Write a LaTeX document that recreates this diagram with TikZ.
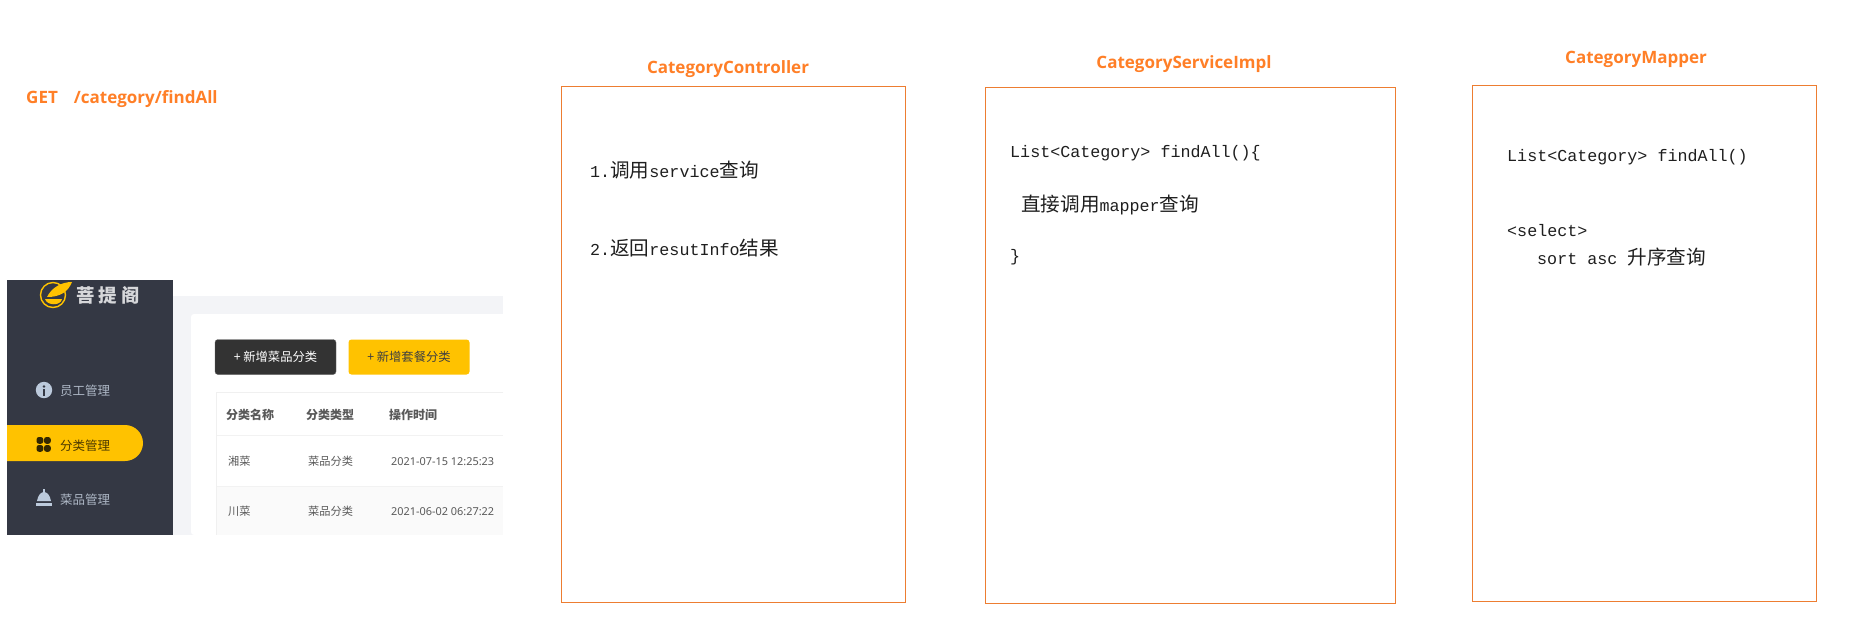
\documentclass[tikz,border=0pt]{standalone}
\usepackage{fontspec}
\setmainfont{Liberation Mono}
\newfontfamily\cjk{Noto Sans CJK SC}
\newfontfamily\ttl{Noto Sans}
\newfontfamily\ttb{Open Sans}
\definecolor{ttlc}{HTML}{FF7F27}
\definecolor{boxc}{HTML}{ED7D31}
\definecolor{side}{HTML}{343844}
\definecolor{yel}{HTML}{FFC200}
\definecolor{pagebg}{HTML}{F3F4F7}
\definecolor{icon}{HTML}{BCCADC}
\definecolor{menutx}{HTML}{AEB8C6}
\tikzset{
  titletext/.style={anchor=center,text=ttlc,font=\ttb\bfseries\fontsize{17}{19}\selectfont,inner sep=0pt},
  codebox/.style={draw=boxc,line width=0.9pt,anchor=north west,inner sep=0pt},
  code/.style={anchor=west,inner sep=0pt,text=black!88,font=\fontsize{16.7}{20}\selectfont},
  menu/.style={anchor=west,inner sep=0pt,text=menutx,font=\cjk\fontsize{12.5}{14}\selectfont},
  headcell/.style={anchor=west,inner sep=0pt,text=black!65,font=\cjk\bfseries\fontsize{12}{14}\selectfont},
  cell/.style={anchor=west,inner sep=0pt,text=black!65,font=\cjk\fontsize{11.2}{13}\selectfont},
  datecell/.style={anchor=west,inner sep=0pt,text=black!65,font=\ttl\fontsize{10.9}{12}\selectfont},
  btn/.style={anchor=center,inner sep=0pt,minimum width=121pt,minimum height=35pt,rounded corners=3pt,font=\cjk\fontsize{12.3}{14}\selectfont},
}
\newcommand{\zh}[1]{{\cjk\fontsize{19.6}{20}\selectfont #1}}
\begin{document}
\begin{tikzpicture}[x=1pt,y=-1pt]
\useasboundingbox (0,0) rectangle (1863,630);
\fill[white] (0,0) rectangle (1863,630);
% titles
\node[titletext,anchor=west] (get) at (26,99) {GET\hspace{16pt}/category/findAll};
\node[titletext] (t1) at (728,69) {CategoryController};
\node[titletext] (t2) at (1184,64) {CategoryServiceImpl};
\node[titletext] (t3) at (1636,59) {CategoryMapper};
% boxes
\node[codebox,minimum width=344pt,minimum height=516pt] (b1) at (561,86) {};
\node[codebox,minimum width=410pt,minimum height=516pt] (b2) at (985,87) {};
\node[codebox,minimum width=344pt,minimum height=516pt] (b3) at (1472,85) {};
% controller
\node[code] (c1) at (590,170) {1.\zh{调用}service\zh{查询}};
\node[code] (c2) at (590,248) {2.\zh{返回}resutInfo\zh{结果}};
% service
\node[code] (s1) at (1010,153) {List<Category> findAll()\{};
\node[code] (s2) at (1021,205) {\zh{直接调用}mapper\zh{查询}};
\node[code] (s3) at (1010,257) {\}};
% mapper
\node[code] (m1) at (1507,157) {List<Category> findAll()};
\node[code] (m2) at (1507,231) {<select>};
\node[code] (m3) at (1537,257) {sort asc \zh{升序查询}};
% screenshot
\fill[pagebg] (173,296) rectangle (503,535);
\fill[white,rounded corners=3pt] (191,535) -- (191,314) -- (515,314) -- (515,535) -- cycle;
\fill[white] (503,290) rectangle (520,540);
\fill[side] (7,280) rectangle (173,535);
\fill[yel] (7,425) -- (125,425) arc[start angle=-90,end angle=90,radius=18] -- (7,461) -- cycle;
% logo
\begin{scope}
\clip (7,280) rectangle (173,320);
\draw[yel,line width=1.4pt] (53,295) circle[radius=12.5];
\fill[yel] (47,297) .. controls (52,287) and (62,282) .. (72,282) .. controls (68,292) and (60,297) .. (47,297) -- cycle;
\fill[yel] (45,299) -- (62,299) .. controls (61,306) and (47,306) .. (45,299) -- cycle;
\end{scope}
\node[anchor=west,inner sep=0pt,text=white!80!side,font=\cjk\bfseries\fontsize{18.5}{20}\selectfont] (logo) at (76,295) {菩\hspace{4pt}提\hspace{4pt}阁};
% menu
\fill[icon] (44,390) circle[radius=8.2];
\fill[side] (44,386.5) circle[radius=1.4];
\fill[side] (42.6,389) rectangle (45.4,395.5);
\node[menu] (mi1) at (60,391) {员工管理};
\foreach \a/\b in {36.5/437,44/437,36.5/445,44/445}{\fill[black!80!yel,rounded corners=2.5pt] (\a,\b) rectangle ++(6.8,6.8);}
\node[menu,text=black!70!yel] (mi2) at (60,446) {分类管理};
\fill[icon] (37,501) .. controls (38,495) and (41,492) .. (44,492) .. controls (47,492) and (50,495) .. (51,501) -- cycle;
\fill[icon] (43.2,489) rectangle (44.8,492.5);
\fill[icon] (36,502.5) rectangle (52,505.5);
\node[menu] (mi3) at (60,500) {菜品管理};
% buttons
\node[btn,fill=black!80,draw=black!60,text=white] (bt1) at (275.5,357) {+ 新增菜品分类};
\node[btn,fill=yel,text=black!75] (bt2) at (409,357) {+ 新增套餐分类};
% table
\fill[black!2] (217,486) rectangle (503,535);
\draw[black!6,line width=1pt] (503,392.5) -- (216.5,392.5) -- (216.5,535);
\draw[black!5,line width=1pt] (217,435) -- (503,435);
\draw[black!5,line width=1pt] (217,486) -- (503,486);
\node[headcell] (h1) at (226,415) {分类名称};
\node[headcell] (h2) at (306,415) {分类类型};
\node[headcell] (h3) at (389,415) {操作时间};
\node[cell] (r1a) at (228,461.5) {湘菜};
\node[cell] (r1b) at (308,461.5) {菜品分类};
\node[datecell] (r1c) at (391,462) {2021-07-15 12:25:23};
\node[cell] (r2a) at (228,511.5) {川菜};
\node[cell] (r2b) at (308,511.5) {菜品分类};
\node[datecell] (r2c) at (391,512) {2021-06-02 06:27:22};
\end{tikzpicture}
\end{document}
